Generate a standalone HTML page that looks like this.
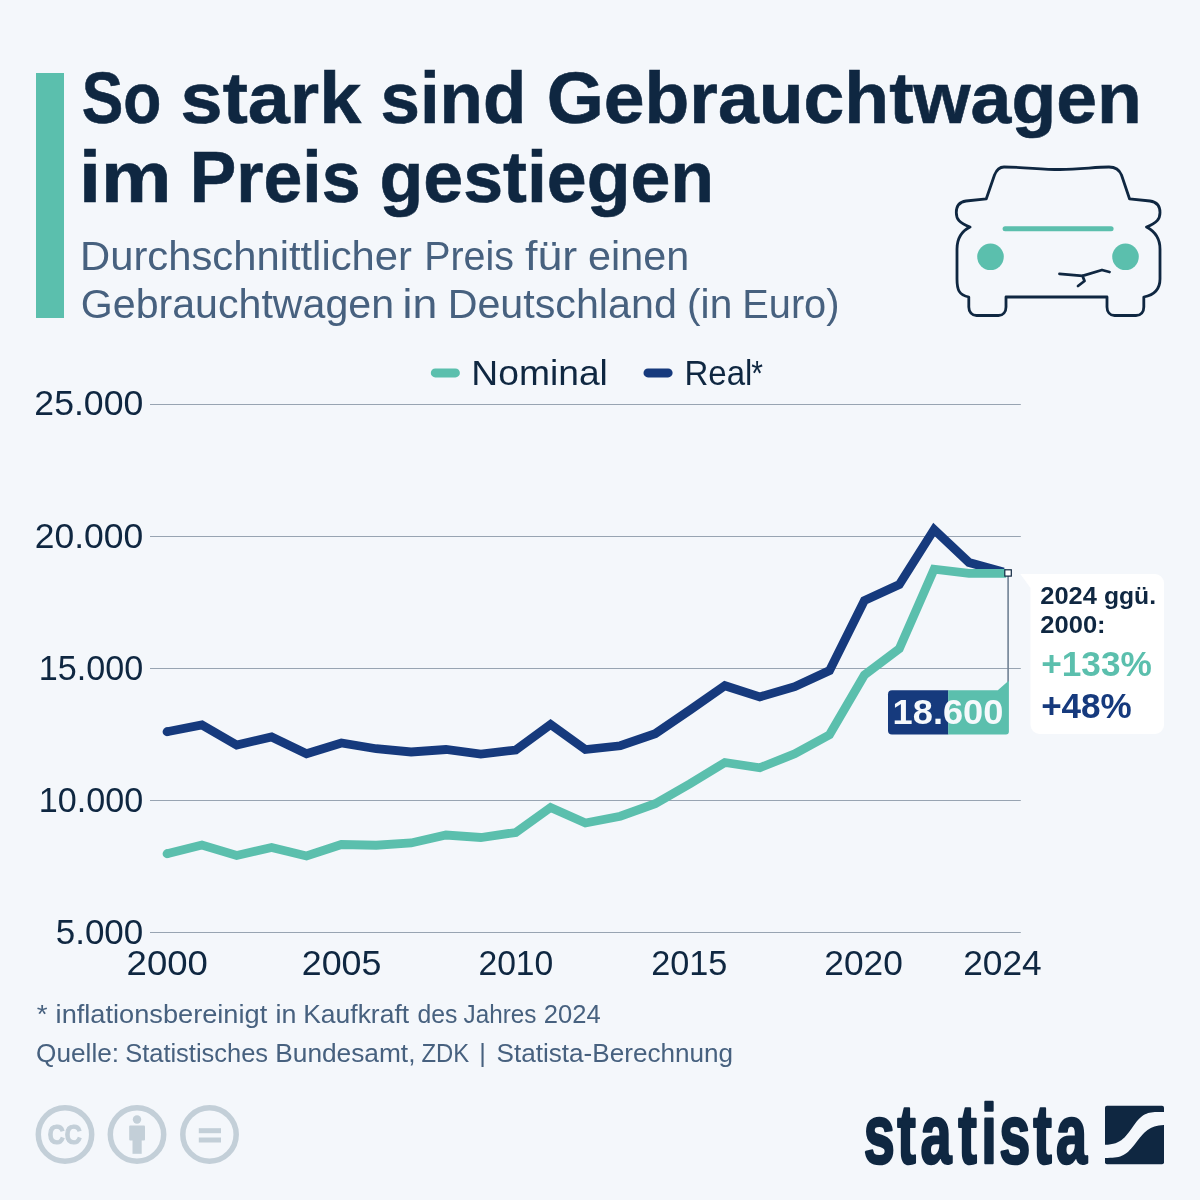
<!DOCTYPE html>
<html lang="de"><head><meta charset="utf-8"><title>So stark sind Gebrauchtwagen im Preis gestiegen</title>
<style>html,body{margin:0;padding:0;background:#f4f7fb;}svg{display:block}text{font-family:"Liberation Sans",sans-serif;}</style>
</head><body>
<svg width="1200" height="1200" viewBox="0 0 1200 1200">
<rect width="1200" height="1200" fill="#f4f7fb"/>
<rect x="36" y="73" width="28" height="245" fill="#5bbfad"/>
<line x1="435.3" y1="372.9" x2="455.4" y2="372.9" stroke="#5bbfad" stroke-width="9" stroke-linecap="round"/>
<line x1="648" y1="372.9" x2="668.1" y2="372.9" stroke="#163a7d" stroke-width="9" stroke-linecap="round"/>
<line x1="150" y1="404.5" x2="1020.8" y2="404.5" stroke="#98a4b2" stroke-width="1"/>
<line x1="150" y1="536.5" x2="1020.8" y2="536.5" stroke="#98a4b2" stroke-width="1"/>
<line x1="150" y1="668.5" x2="1020.8" y2="668.5" stroke="#98a4b2" stroke-width="1"/>
<line x1="150" y1="800.5" x2="1020.8" y2="800.5" stroke="#98a4b2" stroke-width="1"/>
<line x1="150" y1="932.5" x2="1020.8" y2="932.5" stroke="#98a4b2" stroke-width="1"/>
<polyline points="167.0,731.75 201.9,725.00 236.7,745.00 271.6,737.00 306.5,753.75 341.4,743.00 376.2,748.75 411.1,752.00 446.0,749.50 480.8,754.00 515.7,750.00 550.6,724.50 585.4,749.50 620.3,745.75 655.2,733.75 690.0,710.00 724.9,685.70 759.8,696.90 794.7,686.70 829.5,670.60 864.4,600.60 899.3,584.60 934.1,529.50 969.0,562.50 1003.4,572.02" fill="none" stroke="#163a7d" stroke-width="8.8" stroke-linejoin="miter" stroke-linecap="butt"/>
<polyline points="167.0,853.75 201.9,845.00 236.7,855.50 271.6,847.50 306.5,856.00 341.4,844.50 376.2,845.25 411.1,843.00 446.0,835.00 480.8,837.50 515.7,832.50 550.6,807.50 585.4,823.00 620.3,816.25 655.2,803.75 690.0,783.75 724.9,762.50 759.8,767.75 794.7,753.75 829.5,734.80 864.4,675.00 899.3,648.75 934.1,569.20 969.0,573.30 1006.2,573.30" fill="none" stroke="#5bbfad" stroke-width="8.8" stroke-linejoin="miter" stroke-linecap="butt"/>
<circle cx="167.0" cy="731.75" r="4.4" fill="#163a7d"/><circle cx="167.0" cy="853.75" r="4.4" fill="#5bbfad"/>
<line x1="1008.1" y1="576" x2="1008.1" y2="682" stroke="#708094" stroke-width="1.6"/>
<path d="M892,690.2 H948.3 V734.5 H892 a4,4 0 0 1 -4,-4 V694.2 a4,4 0 0 1 4,-4 Z" fill="#163a7d"/>
<path d="M948.2,690.2 H997.8 L1008.9,680.6 V731.5 a3,3 0 0 1 -3,3 H948.2 Z" fill="#5bbfad"/>
<rect x="1004.8" y="569.8" width="6.5" height="6.3" fill="#fff" stroke="#0f2741" stroke-width="1.2"/>
<path d="M1020.3,574 H1155 a9,9 0 0 1 9,9 V725 a9,9 0 0 1 -9,9 H1039.5 a9,9 0 0 1 -9,-9 V588 Z" fill="#ffffff"/>
<g fill="none" stroke="#0f2741" stroke-width="2.8" stroke-linecap="round" stroke-linejoin="round">
<path d="M1004,167 C1025,167 1040,169.5 1060,169.5 C1080,169.5 1095,167 1109,167 C1116,167 1119.5,170 1121.5,175 L1129.5,198.8 L1150,201 C1157,202 1160,206 1160,212.5 C1160,219 1157,223 1146.5,227 C1156,232 1160,240 1160,249 V279 C1160,290 1154,295 1143.8,297 V307 C1143.8,312 1141,315.5 1136,315.5 H1114.5 C1110,315.5 1107,312 1107,307 V297 H1006 V307 C1006,312 1003,315.5 998.5,315.5 H976.5 C972,315.5 968.8,312 968.8,307 V297 C959,295 957,290 957,279 V249 C957,240 960,232 970,227 C959,223 956.3,219 956.3,212.5 C956.3,206 959,202 966,201 L986.3,198.8 L994.5,175 C996.5,170 999,167 1004,167 Z"/>
<path d="M1059.5,273.8 L1082.5,275.8 L1102,270 L1109.5,272 M1082.5,275.8 L1084.5,281 L1078,286"/>
</g>
<line x1="1005.1" y1="228.8" x2="1111.1" y2="228.8" stroke="#5bbfad" stroke-width="5" stroke-linecap="round"/>
<circle cx="990.5" cy="256.8" r="13.3" fill="#5bbfad"/><circle cx="1125.5" cy="256.8" r="13.3" fill="#5bbfad"/>
<g fill="none" stroke="#c3cfd8" stroke-width="5.5"><circle cx="65" cy="1134.5" r="26.7"/><circle cx="137" cy="1134.5" r="26.7"/><circle cx="209.5" cy="1134.5" r="26.7"/></g>
<g fill="#c3cfd8"><circle cx="137" cy="1119.5" r="4.2"/><rect x="129.2" y="1125.5" width="15.8" height="15" rx="1"/><rect x="132.5" y="1139" width="9.2" height="14.8"/>
<rect x="198.8" y="1128.2" width="22.2" height="5"/><rect x="198.8" y="1137.5" width="22.2" height="5"/></g>
<rect x="1105" y="1105.8" width="59" height="58.5" rx="2" fill="#0f2741"/>
<path d="M1104,1144.75 H1105 C1122,1144.75 1126,1136 1135,1123.75 S1150,1112 1163.9,1112 H1165 V1125 H1163.9 C1149,1126 1145,1131 1135,1144 S1120,1157.9 1105,1157.9 H1104 Z" fill="#f4f7fb"/>
<text y="123.3" font-size="72" fill="#0f2741" font-weight="700" stroke="#0f2741" stroke-width="0.6"><tspan x="81.73" textLength="79.61" lengthAdjust="spacingAndGlyphs">So</tspan> <tspan x="180.64" textLength="180.58" lengthAdjust="spacingAndGlyphs">stark</tspan> <tspan x="380.48" textLength="145.75" lengthAdjust="spacingAndGlyphs">sind</tspan> <tspan x="546.71" textLength="595.14" lengthAdjust="spacingAndGlyphs">Gebrauchtwagen</tspan></text>
<text y="201.7" font-size="72" fill="#0f2741" font-weight="700" stroke="#0f2741" stroke-width="0.6"><tspan x="79.05" textLength="92.49" lengthAdjust="spacingAndGlyphs">im</tspan> <tspan x="189.84" textLength="170.69" lengthAdjust="spacingAndGlyphs">Preis</tspan> <tspan x="379.46" textLength="334.71" lengthAdjust="spacingAndGlyphs">gestiegen</tspan></text>
<text y="269.6" font-size="40.7" fill="#47617f"><tspan x="80.04" textLength="331.87" lengthAdjust="spacingAndGlyphs">Durchschnittlicher</tspan> <tspan x="424.17" textLength="89.76" lengthAdjust="spacingAndGlyphs">Preis</tspan> <tspan x="525.00" textLength="52.22" lengthAdjust="spacingAndGlyphs">für</tspan> <tspan x="588.11" textLength="101.01" lengthAdjust="spacingAndGlyphs">einen</tspan></text>
<text y="317.6" font-size="40.7" fill="#47617f"><tspan x="80.77" textLength="313.24" lengthAdjust="spacingAndGlyphs">Gebrauchtwagen</tspan> <tspan x="402.51" textLength="34.69" lengthAdjust="spacingAndGlyphs">in</tspan> <tspan x="447.68" textLength="229.13" lengthAdjust="spacingAndGlyphs">Deutschland</tspan> <tspan x="687.09" textLength="45.19" lengthAdjust="spacingAndGlyphs">(in</tspan> <tspan x="742.30" textLength="97.16" lengthAdjust="spacingAndGlyphs">Euro)</tspan></text>
<text x="471.39" y="384.9" font-size="35.6" fill="#0f2741" textLength="136.46" lengthAdjust="spacingAndGlyphs">Nominal</text>
<text y="384.9" font-size="35.6" fill="#0f2741"><tspan x="684.42" textLength="67.96" lengthAdjust="spacingAndGlyphs">Real</tspan><tspan x="751.33" textLength="11.70" lengthAdjust="spacingAndGlyphs">*</tspan></text>
<text x="34.33" y="415.4" font-size="35.5" fill="#0f2741" textLength="108.96" lengthAdjust="spacingAndGlyphs">25.000</text>
<text x="34.84" y="547.6" font-size="35.5" fill="#0f2741" textLength="108.44" lengthAdjust="spacingAndGlyphs">20.000</text>
<text x="38.87" y="679.6" font-size="35.5" fill="#0f2741" textLength="104.38" lengthAdjust="spacingAndGlyphs">15.000</text>
<text x="38.87" y="811.9" font-size="35.5" fill="#0f2741" textLength="104.38" lengthAdjust="spacingAndGlyphs">10.000</text>
<text x="55.71" y="944.3" font-size="35.5" fill="#0f2741" textLength="87.56" lengthAdjust="spacingAndGlyphs">5.000</text>
<text x="126.59" y="974.7" font-size="35.5" fill="#0f2741" textLength="81.22" lengthAdjust="spacingAndGlyphs">2000</text>
<text x="301.82" y="974.7" font-size="35.5" fill="#0f2741" textLength="79.63" lengthAdjust="spacingAndGlyphs">2005</text>
<text x="478.42" y="974.7" font-size="35.5" fill="#0f2741" textLength="74.92" lengthAdjust="spacingAndGlyphs">2010</text>
<text x="651.19" y="974.7" font-size="35.5" fill="#0f2741" textLength="76.19" lengthAdjust="spacingAndGlyphs">2015</text>
<text x="824.35" y="974.7" font-size="35.5" fill="#0f2741" textLength="78.53" lengthAdjust="spacingAndGlyphs">2020</text>
<text x="963.15" y="974.7" font-size="35.5" fill="#0f2741" textLength="78.53" lengthAdjust="spacingAndGlyphs">2024</text>
<text y="1023.4" font-size="25.4" fill="#47617f"><tspan x="36.87" textLength="10.83" lengthAdjust="spacingAndGlyphs">*</tspan> <tspan x="55.60" textLength="211.61" lengthAdjust="spacingAndGlyphs">inflationsbereinigt</tspan> <tspan x="275.62" textLength="20.88" lengthAdjust="spacingAndGlyphs">in</tspan> <tspan x="303.23" textLength="105.88" lengthAdjust="spacingAndGlyphs">Kaufkraft</tspan> <tspan x="417.53" textLength="39.95" lengthAdjust="spacingAndGlyphs">des</tspan> <tspan x="463.62" textLength="72.84" lengthAdjust="spacingAndGlyphs">Jahres</tspan> <tspan x="543.80" textLength="56.83" lengthAdjust="spacingAndGlyphs">2024</tspan></text>
<text y="1061.7" font-size="25.4" fill="#47617f"><tspan x="36.07" textLength="82.99" lengthAdjust="spacingAndGlyphs">Quelle:</tspan> <tspan x="125.20" textLength="142.89" lengthAdjust="spacingAndGlyphs">Statistisches</tspan> <tspan x="275.25" textLength="140.22" lengthAdjust="spacingAndGlyphs">Bundesamt,</tspan> <tspan x="421.55" textLength="47.70" lengthAdjust="spacingAndGlyphs">ZDK</tspan> <tspan x="479.22" textLength="6.60" lengthAdjust="spacingAndGlyphs">|</tspan> <tspan x="496.48" textLength="236.68" lengthAdjust="spacingAndGlyphs">Statista-Berechnung</tspan></text>
<text x="892.64" y="724" font-size="35" fill="#f6f9fc" font-weight="700" textLength="110.73" lengthAdjust="spacingAndGlyphs">18.600</text>
<text y="603.6" font-size="24.3" fill="#0f2741" font-weight="700"><tspan x="1040.30" textLength="56.63" lengthAdjust="spacingAndGlyphs">2024</tspan> <tspan x="1103.93" textLength="52.13" lengthAdjust="spacingAndGlyphs">ggü.</tspan></text>
<text x="1040.30" y="633.3" font-size="24.3" fill="#0f2741" font-weight="700" textLength="65.32" lengthAdjust="spacingAndGlyphs">2000:</text>
<text x="1041.15" y="675.6" font-size="34.2" fill="#5bbfad" font-weight="700" textLength="110.65" lengthAdjust="spacingAndGlyphs">+133%</text>
<text x="1041.15" y="717.6" font-size="34.2" fill="#163a7d" font-weight="700" textLength="90.64" lengthAdjust="spacingAndGlyphs">+48%</text>
<text x="47.86" y="1143.9" font-size="27" fill="#c3cfd8" font-weight="700" textLength="33.98" lengthAdjust="spacingAndGlyphs" stroke="#c3cfd8" stroke-width="1.2">CC</text>
<text transform="translate(0,1162.8) scale(0.665,1)" x="1298.84 1349.38 1384.37 1441.11 1475.41 1502.60 1553.89 1588.12" y="0" font-size="84" font-weight="700" fill="#0f2741" stroke="#0f2741" stroke-width="2.2" vector-effect="non-scaling-stroke" stroke-linejoin="round">statista</text>
</svg>
</body></html>
